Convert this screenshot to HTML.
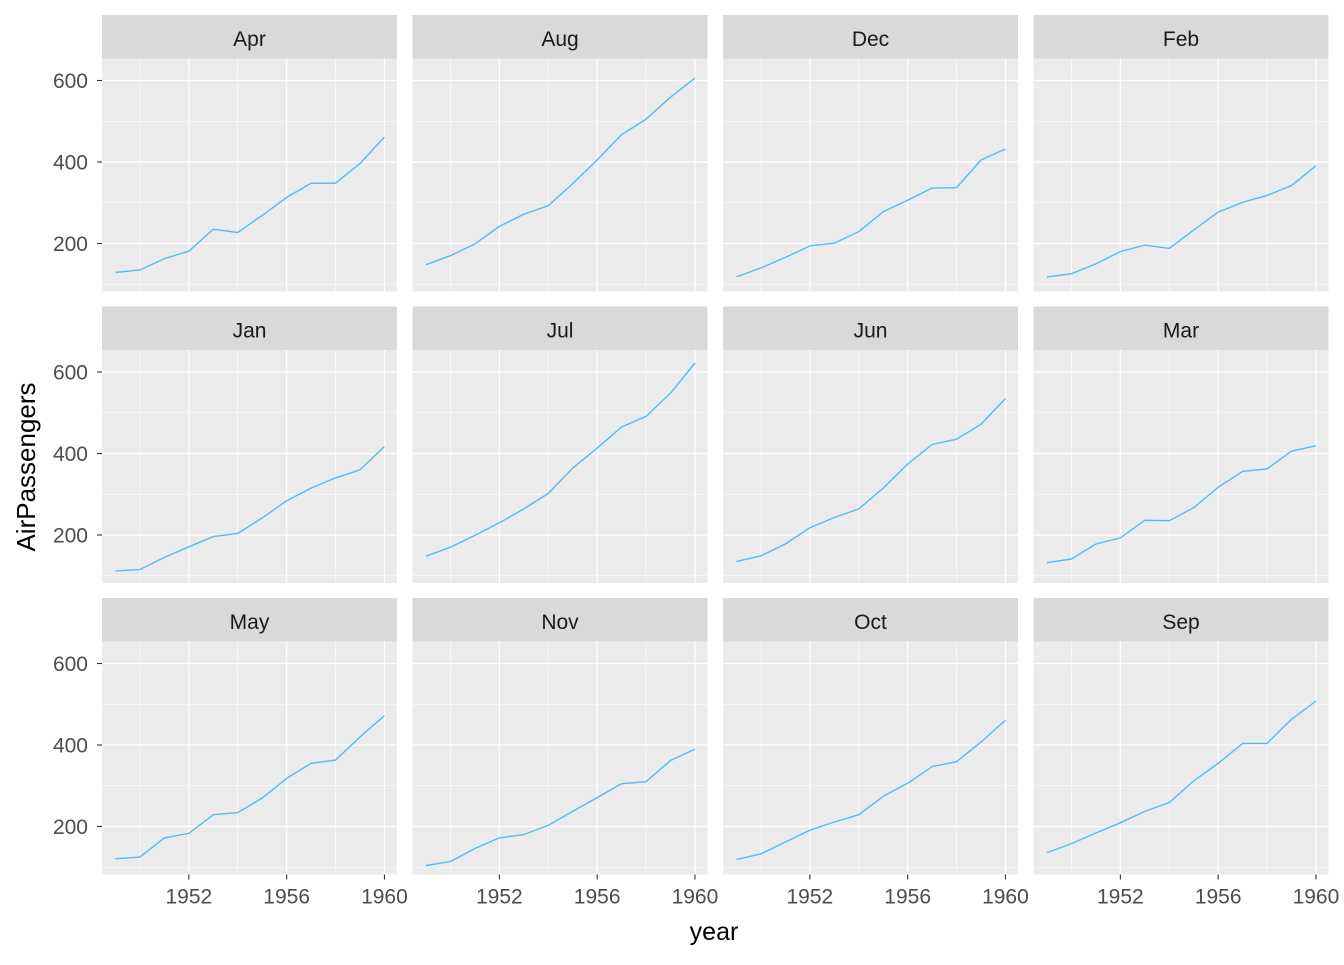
<!DOCTYPE html>
<html><head><meta charset="utf-8"><style>body{margin:0;background:#fff}</style></head>
<body>
<svg id="s" width="1344" height="960" xmlns="http://www.w3.org/2000/svg" font-family="Liberation Sans, Arial, sans-serif"></svg>
<script>
const D={
Jan:[112,115,145,171,196,204,242,284,315,340,360,417],
Feb:[118,126,150,180,196,188,233,277,301,318,342,391],
Mar:[132,141,178,193,236,235,267,317,356,362,406,419],
Apr:[129,135,163,181,235,227,269,313,348,348,396,461],
May:[121,125,172,183,229,234,270,318,355,363,420,472],
Jun:[135,149,178,218,243,264,315,374,422,435,472,535],
Jul:[148,170,199,230,264,302,364,413,465,491,548,622],
Aug:[148,170,199,242,272,293,347,405,467,505,559,606],
Sep:[136,158,184,209,237,259,312,355,404,404,463,508],
Oct:[119,133,162,191,211,229,274,306,347,359,407,461],
Nov:[104,114,146,172,180,203,237,271,305,310,362,390],
Dec:[118,140,166,194,201,229,278,306,336,337,405,432]};
const order=["Apr","Aug","Dec","Feb","Jan","Jul","Jun","Mar","May","Nov","Oct","Sep"];
const colX=[102,412.5,723,1033.5], W=295;
const rowT=[15,306.5,598], SH=43.5, PH=233;
let h='';
function X(c,yr){return colX[c]+13.5+(yr-1949)*24.45;}
function Y(r,v){return rowT[r]+SH+22+(600-v)*0.4075;}
order.forEach((m,i)=>{
 const c=i%4,r=Math.floor(i/4);
 const x0=colX[c],y0=rowT[r],py=y0+SH;
 h+=`<rect x="${x0}" y="${y0}" width="${W}" height="${SH}" fill="#d9d9d9"/>`;
 h+=`<text x="${x0+W/2}" y="${y0+31}" font-size="21" fill="#1a1a1a" text-anchor="middle">${m}</text>`;
 h+=`<rect x="${x0}" y="${py}" width="${W}" height="${PH}" fill="#ebebeb"/>`;
 [100,300,500].forEach(v=>{h+=`<line x1="${x0}" x2="${x0+W}" y1="${Y(r,v)}" y2="${Y(r,v)}" stroke="#fff" stroke-width="0.6"/>`});
 [1950,1954,1958].forEach(v=>{h+=`<line y1="${py}" y2="${py+PH}" x1="${X(c,v)}" x2="${X(c,v)}" stroke="#fff" stroke-width="0.6"/>`});
 [200,400,600].forEach(v=>{h+=`<line x1="${x0}" x2="${x0+W}" y1="${Y(r,v)}" y2="${Y(r,v)}" stroke="#fff" stroke-width="1.2"/>`;
   if(c==0){h+=`<line x1="${x0-5}" x2="${x0}" y1="${Y(r,v)}" y2="${Y(r,v)}" stroke="#333" stroke-width="1.1"/><text x="${x0-14}" y="${Y(r,v)+7.5}" font-size="21" fill="#4d4d4d" text-anchor="end">${v}</text>`;}});
 [1952,1956,1960].forEach(v=>{h+=`<line y1="${py}" y2="${py+PH}" x1="${X(c,v)}" x2="${X(c,v)}" stroke="#fff" stroke-width="1.2"/>`;
   if(r==2){h+=`<line y1="${py+PH}" y2="${py+PH+5}" x1="${X(c,v)}" x2="${X(c,v)}" stroke="#333" stroke-width="1.1"/><text x="${X(c,v)}" y="${py+PH+29}" font-size="21" fill="#4d4d4d" text-anchor="middle">${v}</text>`;}});
 const pts=D[m].map((v,k)=>X(c,1949+k).toFixed(1)+','+Y(r,v).toFixed(1)).join(' ');
 h+=`<polyline points="${pts}" fill="none" stroke="#4FBDEF" stroke-width="1.4"/>`;
});
h+=`<text x="714" y="940" font-size="25" fill="#000" text-anchor="middle">year</text>`;
h+=`<text transform="translate(35,467) rotate(-90)" font-size="26" fill="#000" text-anchor="middle">AirPassengers</text>`;
document.getElementById('s').innerHTML=h;
</script>
</body></html>
